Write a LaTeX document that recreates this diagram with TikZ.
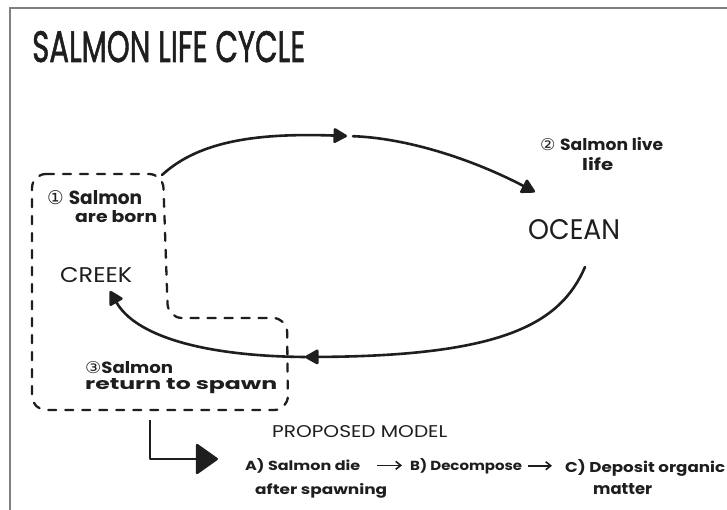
\documentclass[tikz,border=0pt]{standalone}
\usepackage{fontspec}
\usepackage{graphicx}
\setmainfont{Poppins}
\newfontfamily\symf{DejaVu Sans}
\newfontfamily\titlef{Poppins}[FakeBold=1.5]
\usetikzlibrary{arrows.meta}
\definecolor{ink}{HTML}{1E1E1E}
\definecolor{frame}{HTML}{808080}
\begin{document}
\begin{tikzpicture}[x=1pt,y=-1pt,
  lbl/.style={inner sep=0pt,anchor=base west,text=ink},
  flow/.style={draw=ink,line width=2.6pt,line cap=round,-{Triangle[length=15pt,width=16pt,round]}},
  dashbox/.style={draw=ink,line width=2.3pt,line cap=round,dash pattern=on 8pt off 9pt,rounded corners=14pt},
  smallarrow/.style={draw=ink,line width=1.6pt,-{Straight Barb[length=5pt,width=8pt]}}]
\useasboundingbox (0,0) rectangle (727,510);
\fill[white] (0,0) rectangle (727,510);
% frame
\draw[frame,line width=2.6pt] (10,512) -- (10,8) -- (729,8);
% title
\node[lbl] (title) at (32,62) {\resizebox{273pt}{31pt}{\titlef SALMON LIFE CYCLE}};
% creek side texts
\node[lbl] (l1a) at (47,205) {\resizebox{95pt}{14pt}{{\symf ①} \bfseries Salmon}};
\node[lbl] (l1b) at (75,223) {\resizebox{82pt}{12pt}{\bfseries are born}};
\node[lbl] (creek) at (60,283) {\resizebox{72pt}{15pt}{CREEK}};
\node[lbl] (l3a) at (85,373) {\resizebox{88pt}{12pt}{{\symf ③}\bfseries Salmon}};
\node[lbl] (l3b) at (85,389) {\resizebox{192pt}{11pt}{\bfseries return to spawn}};
% ocean side
\node[lbl] (l2a) at (540,151) {\resizebox{123pt}{13pt}{{\symf ②} \bfseries Salmon live}};
\node[lbl] (l2b) at (582,171) {\resizebox{31pt}{13pt}{\bfseries life}};
\node[lbl] (ocean) at (528,240) {\resizebox{92pt}{20pt}{OCEAN}};
% proposed model
\node[lbl] (pm) at (272,437) {\resizebox{175pt}{12pt}{PROPOSED MODEL}};
\node[lbl] (A) at (245,470) {\resizebox{115pt}{12pt}{\bfseries A) Salmon die}};
\node[lbl] (A2) at (255,494) {\resizebox{132pt}{11pt}{\bfseries after spawning}};
\node[lbl] (B) at (410,470) {\resizebox{112pt}{12pt}{\bfseries B) Decompose}};
\node[lbl] (C) at (565,472) {\resizebox{160pt}{13pt}{\bfseries C) Deposit organic}};
\node[lbl] (C2) at (593,494) {\resizebox{59pt}{11pt}{\bfseries matter}};
\draw[smallarrow,shorten <=17pt,shorten >=8pt] (A.east) -- (A.east -| B.west);
\draw[smallarrow,shorten <=6pt,shorten >=13pt] (B.east) -- (B.east -| C.west);
% dashed region
\coordinate (boxtop) at (162,175);
\coordinate (boxbot) at (150,420);
\draw[dashbox] (32,174) -- (163,174) -- (168,318) -- (287,318) -- (288,410) -- (32,410) -- cycle;
% cycle arrows
\coordinate (mid) at (347,136);
\coordinate (oceantop) at (535,192);
\coordinate (oceanbot) at (585,267);
\coordinate (ret) at (305,357);
\coordinate (creekin) at (110,291);
\draw[flow] (boxtop) .. controls (200,140) and (260,133) .. (mid);
\draw[flow,shorten <=6pt] (mid) .. controls (405,138) and (470,158) .. (oceantop);
\draw[flow] (oceanbot) .. controls (560,325) and (500,356) .. (ret);
\draw[flow] (ret) .. controls (200,356) and (135,335) .. (creekin);
% proposed model arrow
\coordinate (ptip) at (218,459);
\draw[draw=ink,line width=2.4pt,line join=round,-{Triangle[length=23pt,width=32pt,round]}] (boxbot) |- (ptip);
\end{tikzpicture}
\end{document}
